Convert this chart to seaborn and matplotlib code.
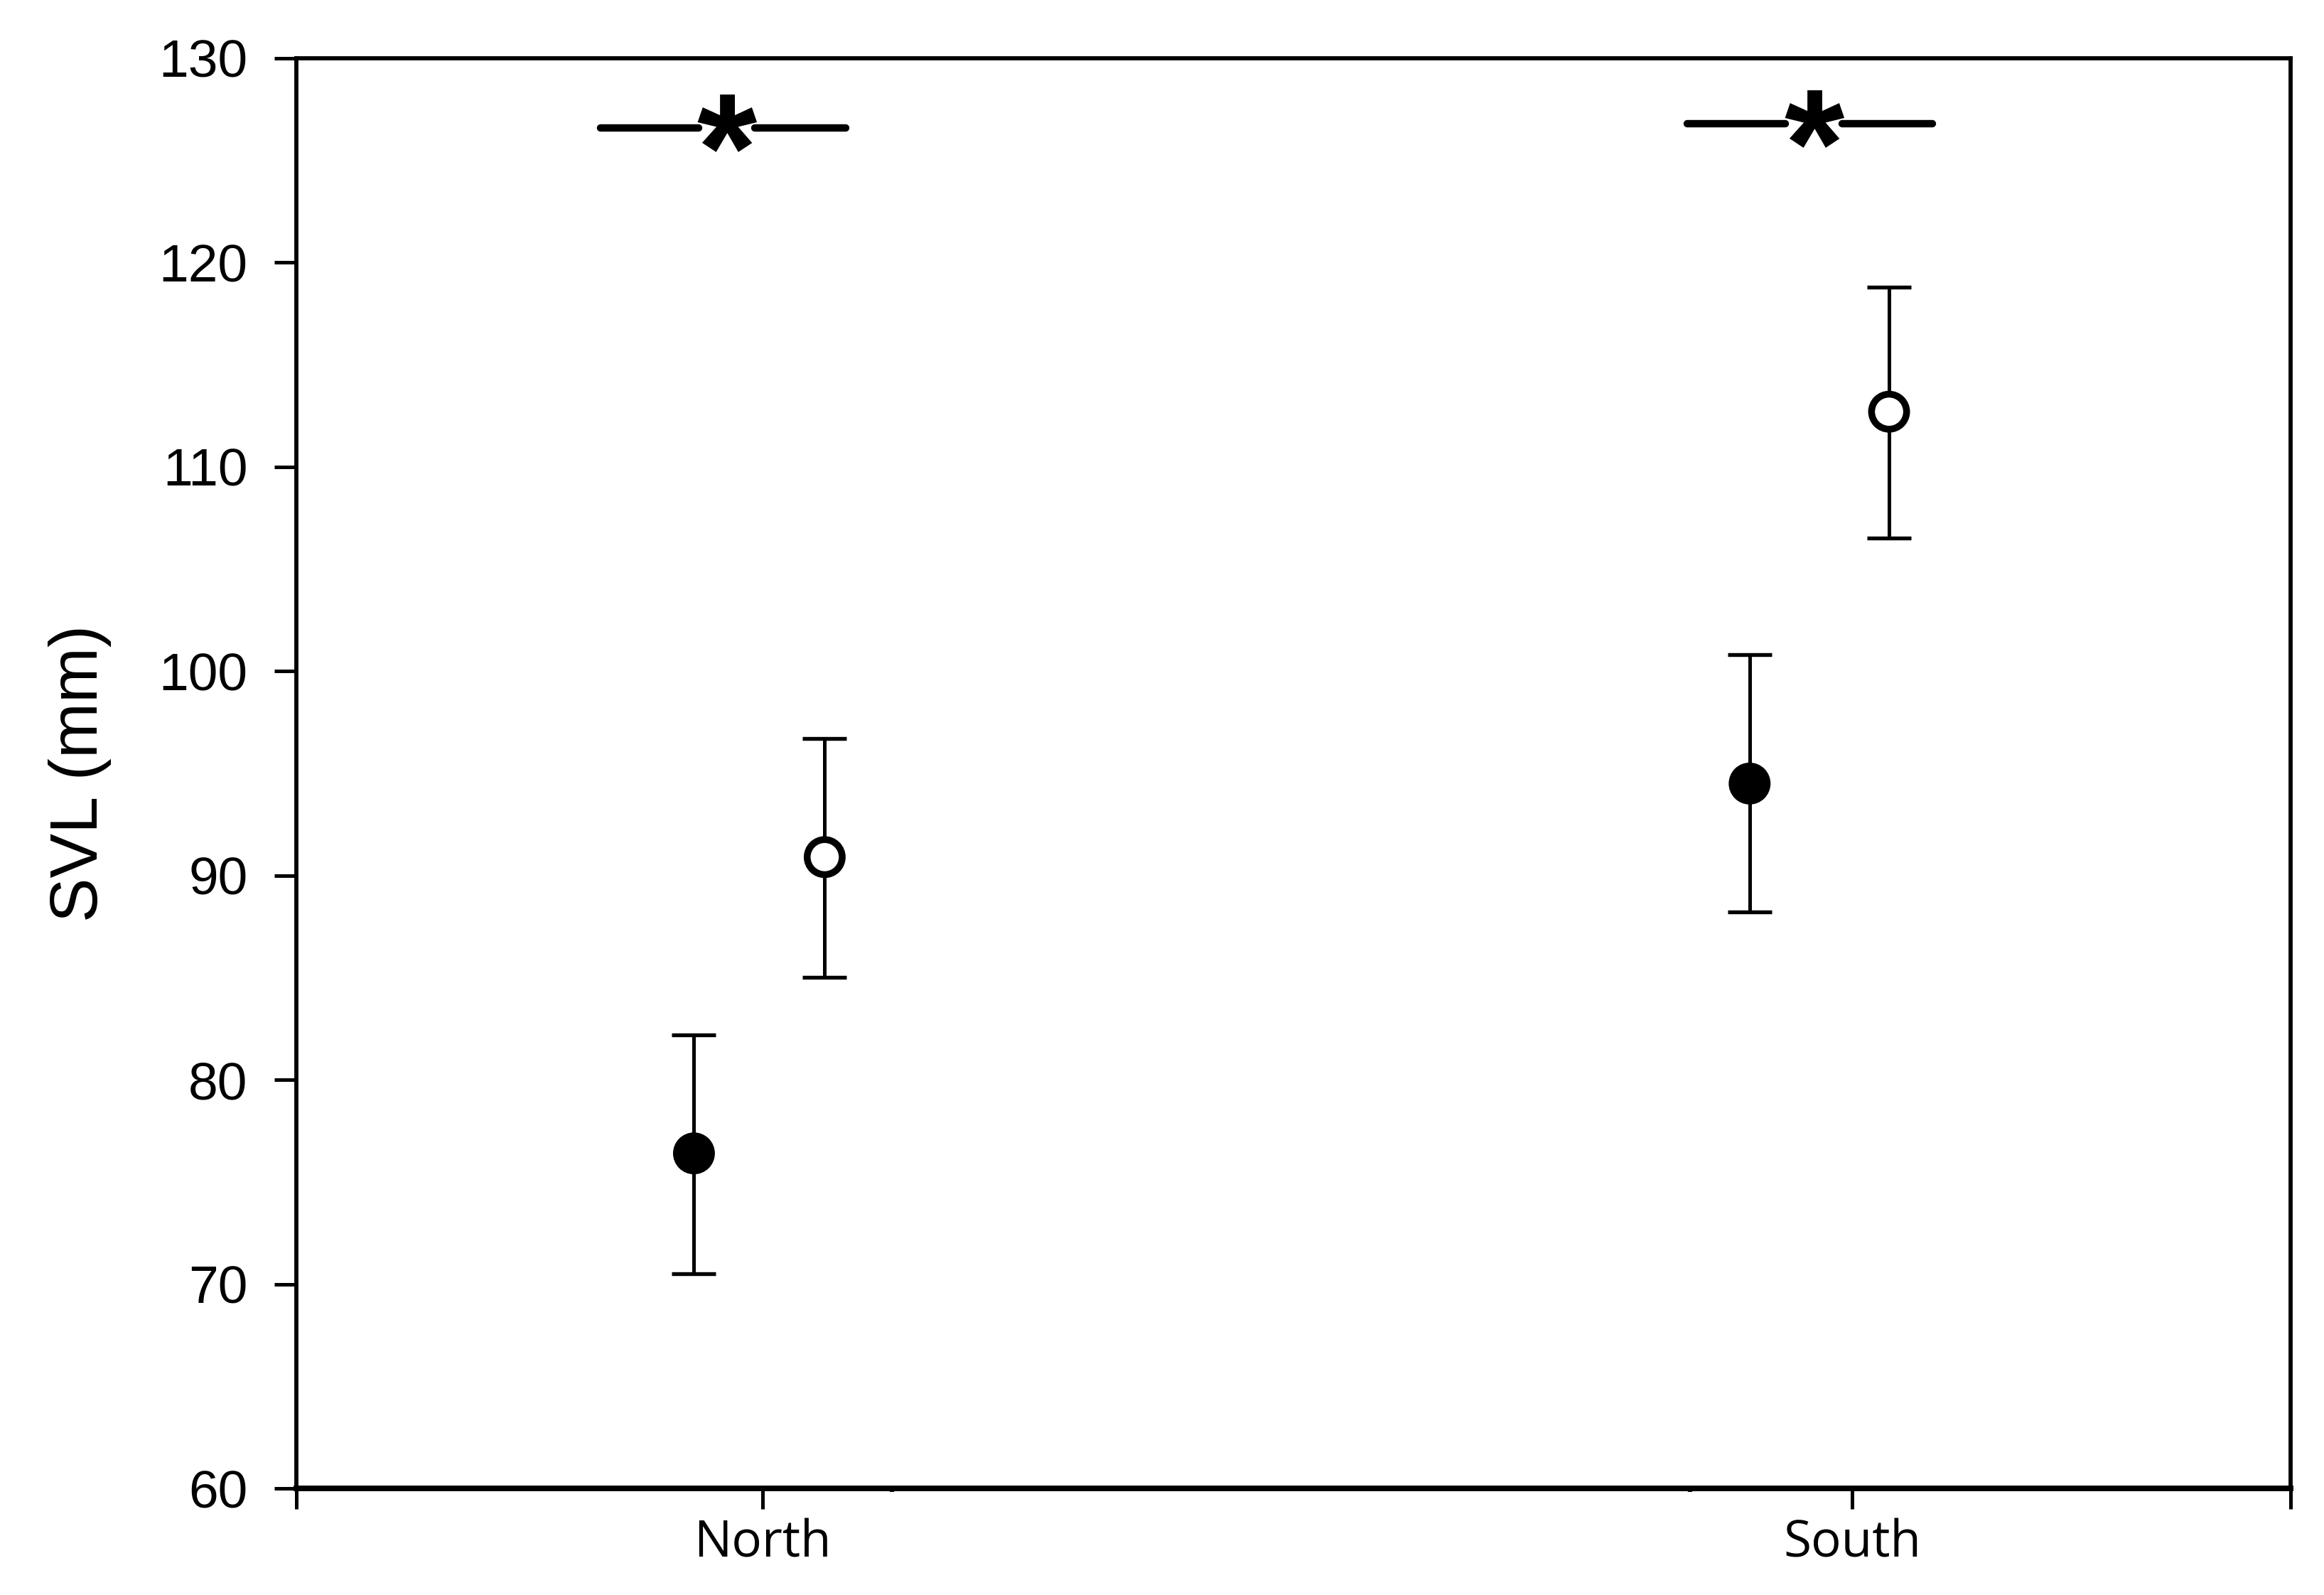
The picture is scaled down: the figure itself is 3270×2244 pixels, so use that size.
import numpy as np
import pandas as pd
import matplotlib
matplotlib.use("Agg")
import matplotlib.pyplot as plt
import seaborn as sns

# data (mean and error bar ends, mm)
sites = ["North", "South"]
filled_mean = [76.4, 94.5]
filled_low = [70.5, 88.2]
filled_high = [82.2, 100.8]
open_mean = [90.9, 112.7]
open_low = [85.0, 106.5]
open_high = [96.7, 118.8]
sig_labels = ["*", "*"]

# layout: horizontal placement of the two symbols around each site tick
filled_shift = [-0.063, -0.094]
open_shift = [0.057, 0.034]
sig_span = [(-0.149, 0.076), (0.849, 1.074)]
sig_star = [-0.033, 0.965]
sig_gap = 0.026
sig_y = [126.6, 126.8]
x_left, x_right = -0.428, 1.4025

sns.set_style("ticks")
plt.rcParams["font.family"] = ["Liberation Sans", "DejaVu Sans"]
plt.rcParams["text.color"] = "black"
plt.rcParams["axes.edgecolor"] = "black"
plt.rcParams["axes.labelcolor"] = "black"
plt.rcParams["xtick.color"] = "black"
plt.rcParams["ytick.color"] = "black"

rows = []
for i, s in enumerate(sites):
    rows.append({"site": s, "kind": "filled", "x": i + filled_shift[i],
                 "mean": filled_mean[i], "low": filled_low[i], "high": filled_high[i]})
    rows.append({"site": s, "kind": "open", "x": i + open_shift[i],
                 "mean": open_mean[i], "low": open_low[i], "high": open_high[i]})
df = pd.DataFrame(rows)

fig = plt.figure(figsize=(10.9, 7.48), dpi=300)
ax = fig.add_axes([0.1275, 0.0668, 0.9856 - 0.1275, 0.9635 - 0.0668])

# error bars
ax.errorbar(df["x"], df["mean"],
            yerr=[df["mean"] - df["low"], df["high"] - df["mean"]],
            fmt="none", ecolor="black", elinewidth=1.2, capsize=7.4,
            capthick=1.3, zorder=2)

# symbols
sns.scatterplot(data=df, x="x", y="mean", hue="kind",
                palette={"filled": "black", "open": "white"},
                edgecolor="black", linewidth=2.3, s=140, legend=False,
                zorder=3, ax=ax)

# significance marks
for i in range(len(sites)):
    a, b = sig_span[i]
    c = sig_star[i]
    ax.plot([a, c - sig_gap], [sig_y[i], sig_y[i]], color="black", lw=2.5,
            solid_capstyle="round")
    ax.plot([c + sig_gap, b], [sig_y[i], sig_y[i]], color="black", lw=2.5,
            solid_capstyle="round")
    ax.annotate(sig_labels[i], xy=(c, sig_y[i]), xytext=(0, -24.5),
                textcoords="offset points", ha="center", va="baseline",
                fontsize=52, fontweight="bold", family="Liberation Sans",
                color="black")

ax.set_xlim(x_left, x_right)
ax.set_ylim(60, 130)
ax.set_yticks(np.arange(60, 131, 10))
ax.set_xticks([x_left, 0, 1, x_right])
ax.set_xticklabels(["", "North", "South", ""], family="Open Sans", fontsize=17)
ax.set_xticks([0.119, 0.851], minor=True)

ax.tick_params(axis="y", direction="out", length=7.4, width=1.2,
               labelsize=18, pad=9, right=False)
ax.tick_params(axis="x", which="major", direction="out", length=7, width=1.2,
               pad=3)
ax.tick_params(axis="x", which="minor", direction="out", length=1.2, width=1.5)

ax.set_xlabel("")
ax.set_ylabel("SVL (mm)", fontsize=22.5, labelpad=16)

for side in ["left", "right", "top"]:
    ax.spines[side].set_visible(True)
    ax.spines[side].set_linewidth(1.4)
ax.spines["bottom"].set_linewidth(1.9)

fig.savefig("out.png", dpi=300, facecolor="white")
